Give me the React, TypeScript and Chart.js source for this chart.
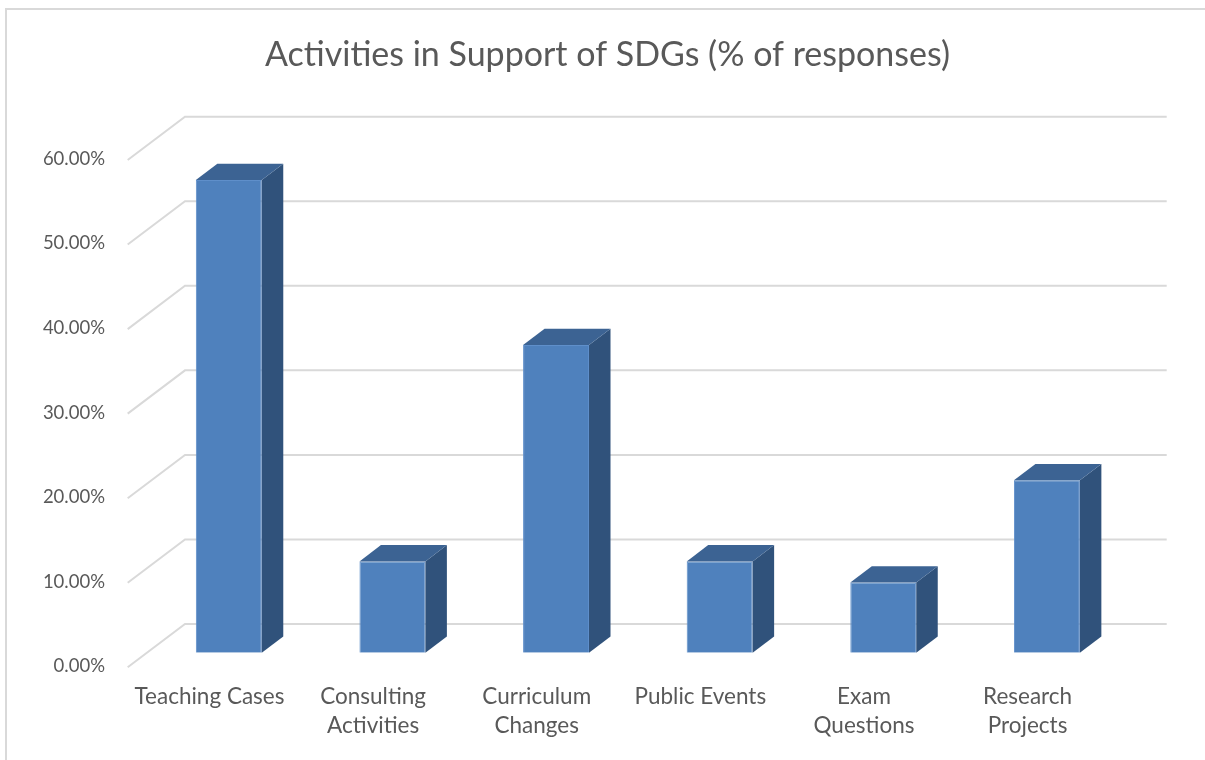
import React, { useEffect, useRef } from "react";
import { Chart, registerables } from "chart.js";

Chart.register(...registerables);

const TITLE = "Activities in Support of SDGs (% of responses)";
const categories: (string | string[])[] = [
  "Teaching Cases",
  ["Consulting", "Activities"],
  ["Curriculum", "Changes"],
  "Public Events",
  ["Exam", "Questions"],
  ["Research", "Projects"],
];
const values: number[] = [55.9, 10.8, 36.4, 10.8, 8.3, 20.4];
const yTicks: number[] = [0, 10, 20, 30, 40, 50, 60];

const FRONT = "#4F81BD";
const FRONT_EDGE = "#5F8FCA";
const TOP = "#3C6393";
const SIDE = "#30527B";
const GRID = "#D9D9D9";
const TEXT = "#595959";
const FONT = "Lato, 'Open Sans', sans-serif";

// oblique depth geometry (relative to the bar front plane)
const DEPTH_FRONT = { dx: -19.3, dy: 14.6 };
const DEPTH_BACK = { dx: 38, dy: -28.7 };
const BAR_DEPTH = { dx: 21.5, dy: -16.3 };

const threeD = {
  id: "threeD",
  beforeDraw(chart: any) {
    const ctx = chart.ctx;
    ctx.save();
    ctx.strokeStyle = GRID;
    ctx.lineWidth = 2;
    ctx.strokeRect(6, 9, 1400, 900);
    ctx.restore();
  },
  beforeDatasetsDraw(chart: any) {
    const ctx = chart.ctx;
    const y = chart.scales.y;
    const area = chart.chartArea;
    ctx.save();
    ctx.strokeStyle = GRID;
    ctx.lineWidth = 2;
    yTicks.forEach((v) => {
      const py = y.getPixelForValue(v);
      const fx = area.left + DEPTH_FRONT.dx;
      const fy = py + DEPTH_FRONT.dy;
      const bx = area.left + DEPTH_BACK.dx;
      const by = py + DEPTH_BACK.dy;
      const rx = area.right + DEPTH_BACK.dx;
      ctx.beginPath();
      ctx.moveTo(fx, fy);
      ctx.lineTo(bx, by);
      ctx.lineTo(rx, by);
      ctx.stroke();
    });
    ctx.restore();
  },
  afterDatasetsDraw(chart: any) {
    const ctx = chart.ctx;
    const meta = chart.getDatasetMeta(0);
    ctx.save();
    meta.data.forEach((bar: any) => {
      const { x, y, base, width } = bar.getProps(["x", "y", "base", "width"], true);
      const l = x - width / 2;
      const r = x + width / 2;
      const dx = BAR_DEPTH.dx;
      const dy = BAR_DEPTH.dy;
      ctx.fillStyle = SIDE;
      ctx.beginPath();
      ctx.moveTo(r, y);
      ctx.lineTo(r + dx, y + dy);
      ctx.lineTo(r + dx, base + dy);
      ctx.lineTo(r, base);
      ctx.closePath();
      ctx.fill();
      ctx.fillStyle = TOP;
      ctx.beginPath();
      ctx.moveTo(l, y);
      ctx.lineTo(l + dx, y + dy);
      ctx.lineTo(r + dx, y + dy);
      ctx.lineTo(r, y);
      ctx.closePath();
      ctx.fill();
    });
    ctx.restore();
  },
};

export default function App() {
  const ref = useRef<HTMLCanvasElement>(null);
  useEffect(() => {
    document.body.style.margin = "0";
    const canvas = ref.current!;
    const chart = new Chart(canvas, {
      type: "bar",
      data: {
        labels: categories,
        datasets: [
          {
            data: values,
            backgroundColor: FRONT,
            borderColor: FRONT_EDGE,
            borderWidth: 1,
            barPercentage: 0.403,
            categoryPercentage: 1,
            yAxisID: "y",
          },
        ],
      },
      options: {
        responsive: false,
        animation: false,
        devicePixelRatio: 1,
        layout: { padding: { left: 10, right: 0, top: 0, bottom: 0 } },
        plugins: {
          legend: { display: false },
          tooltip: { enabled: false },
          title: {
            display: true,
            text: TITLE,
            color: TEXT,
            font: { family: FONT, size: 34, weight: "normal", lineHeight: 1.2 },
            padding: { top: 34.6, bottom: 70 },
          },
        },
        scales: {
          x: {
            grid: { display: false },
            border: { display: false },
            afterFit: (axis: any) => {
              axis.height = 107.3;
            },
            ticks: {
              color: TEXT,
              font: { family: FONT, size: 22.5, lineHeight: 1.29 },
              labelOffset: -19.3,
              padding: 22,
              maxRotation: 0,
              autoSkip: false,
            },
          },
          y: {
            min: 0,
            max: 60,
            grid: { display: false },
            border: { display: false },
            afterFit: (axis: any) => {
              axis.width = 137;
            },
            ticks: {
              stepSize: 10,
              color: TEXT,
              font: { family: FONT, size: 18.5 },
              padding: 34,
              labelOffset: 13.5,
              callback: (v: any) => Number(v).toFixed(2) + "%",
            },
          },
          y2: {
            position: "right",
            display: true,
            grid: { display: false },
            border: { display: false },
            ticks: { display: false },
            afterFit: (axis: any) => {
              axis.width = 76.3;
            },
          },
        },
      },
      plugins: [threeD],
    });
    return () => chart.destroy();
  }, []);
  return (
    <div style={{ width: 1205, height: 760 }}>
      <canvas ref={ref} width={1205} height={760} />
    </div>
  );
}
